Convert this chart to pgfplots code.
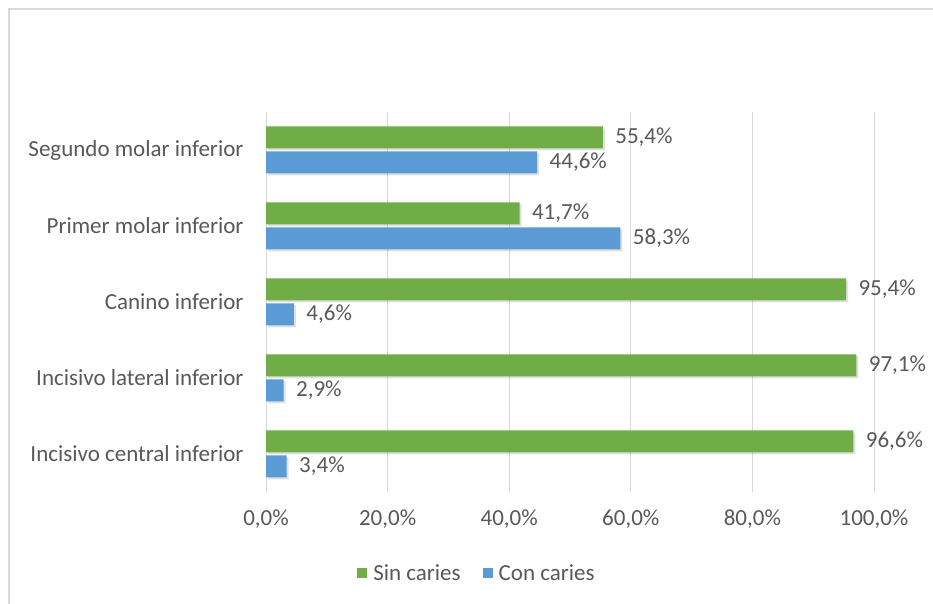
\documentclass[border=0pt]{standalone}
\usepackage{fontspec}
\setmainfont{Carlito}
\usepackage{pgfplots}
\pgfplotsset{compat=1.18}
\definecolor{sinc}{HTML}{70AD47}
\definecolor{conc}{HTML}{5B9BD5}
\definecolor{txt}{HTML}{595959}
\definecolor{grd}{HTML}{D9D9D9}
\begin{document}
\begin{tikzpicture}
\path[use as bounding box] (0,0) rectangle (933bp,604bp);
\fill[white] (0,0) rectangle (933bp,604bp);
\draw[grd, line width=1.2bp] (9bp,-5bp) -- (9bp,595bp) -- (940bp,595bp);
\begin{axis}[
  at={(266bp,112bp)}, anchor=south west,
  scale only axis, width=608bp, height=380bp,
  xmin=0, xmax=100, ymin=-0.5, ymax=4.5,
  axis line style={draw=none},
  xmajorgrids, grid style={grd, line width=1bp},
  major tick length=0pt,
  xtick={0,20,40,60,80,100},
  xticklabels={{0,0\%},{20,0\%},{40,0\%},{60,0\%},{80,0\%},{100,0\%}},
  ytick={0,1,2,3,4},
  yticklabels={Incisivo central inferior, Incisivo lateral inferior, Canino inferior, Primer molar inferior, Segundo molar inferior},
  tick label style={font=\fontsize{23bp}{27bp}\selectfont, text=txt},
  xticklabel style={yshift=-14bp},
  yticklabel style={xshift=-19bp},
  /pgf/number format/assume math mode=true,
  nodes near coords={\pgfmathprintnumber[fixed,fixed zerofill,precision=1,use comma]{\pgfplotspointmeta}\%},
  nodes near coords style={font=\fontsize{23bp}{27bp}\selectfont, text=txt, anchor=west, xshift=9bp},
  point meta=x,
  legend columns=2,
  legend style={draw=none, fill=none, at={(0.347,-0.213)}, anchor=center,
    font=\fontsize{23bp}{27bp}\selectfont, text=txt,
    /tikz/every odd column/.append style={column sep=4bp},
    /tikz/every even column/.append style={column sep=20bp}},
  legend image code/.code={\fill[#1] (0bp,-5bp) rectangle (10bp,5bp);},
]
\addplot[xbar, bar width=22bp, bar shift=12.5bp, fill=black, draw=none, opacity=0.12, xshift=2bp, yshift=-2bp, forget plot, nodes near coords={}] coordinates {(96.6,0) (97.1,1) (95.4,2) (41.7,3) (55.4,4)};
\addplot[xbar, bar width=22bp, bar shift=-12.5bp, fill=black, draw=none, opacity=0.12, xshift=2bp, yshift=-2bp, forget plot, nodes near coords={}] coordinates {(3.4,0) (2.9,1) (4.6,2) (58.3,3) (44.6,4)};
\addplot[xbar, bar width=22bp, bar shift=12.5bp, fill=sinc, draw=none, every node near coord/.append style={yshift=12.5bp}] coordinates {(96.6,0) (97.1,1) (95.4,2) (41.7,3) (55.4,4)};
\addplot[xbar, bar width=22bp, bar shift=-12.5bp, fill=conc, draw=none, every node near coord/.append style={yshift=-12.5bp}] coordinates {(3.4,0) (2.9,1) (4.6,2) (58.3,3) (44.6,4)};
\legend{Sin caries, Con caries}
\end{axis}
\end{tikzpicture}
\end{document}
